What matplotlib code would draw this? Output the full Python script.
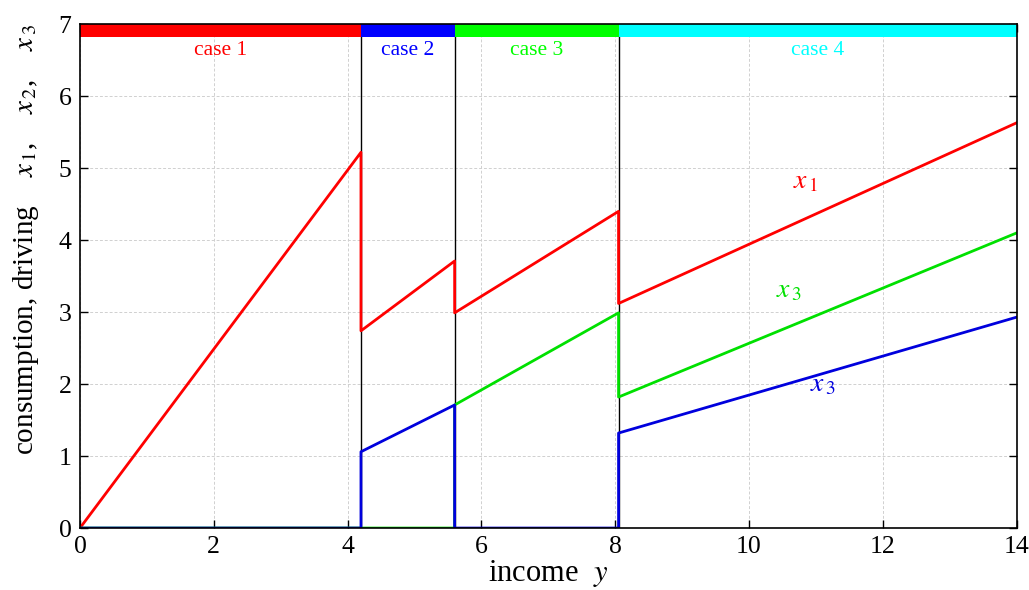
import numpy as np
import matplotlib.pyplot as plt

# income breakpoints between the cases
breaks = [0, 4.2, 5.6, 8.05, 14]
case_names = ['case 1', 'case 2', 'case 3', 'case 4']
case_colors = ['#ff0000', '#0000ff', '#00ff00', '#00ffff']

# piecewise linear paths (jumps at the breakpoints)
y = [0, 4.2, 4.2, 5.6, 5.6, 8.05, 8.05, 14]
x1 = [0, 5.22, 2.74, 3.71, 2.99, 4.40, 3.12, 5.63]
x2 = [0, 0, 1.06, 1.71, 0, 0, 1.32, 2.93]
x3 = [0, 0, 0, 0, 1.71, 2.99, 1.82, 4.10]

plt.rcParams['font.family'] = ['Liberation Serif', 'DejaVu Serif']
plt.rcParams['mathtext.fontset'] = 'stix'

fig = plt.figure(figsize=(10.29, 5.9), dpi=100)
ax = fig.add_axes([0.0777, 0.105, 0.9103, 0.854])

ax.grid(True, color='#d0d0d0', linestyle=(0, (3, 2)), linewidth=0.7)
ax.set_axisbelow(True)

for b in breaks[1:-1]:
    ax.axvline(b, color='black', linewidth=1.0, zorder=2)

ax.plot(y, x1, color='#ff0000', linewidth=2.0, zorder=3)
ax.plot(y, x3, color='#00e000', linewidth=2.0, zorder=3)
ax.plot(y, x2, color='#0000dd', linewidth=2.0, zorder=3)

top = 7.0
for i in range(4):
    a, b = breaks[i], breaks[i + 1]
    ax.fill_between([a, b], top - 0.18, top, color=case_colors[i], linewidth=0, zorder=4)
    ax.text((a + b) / 2, 6.64, case_names[i], color=case_colors[i], fontsize=15.5,
            ha='center', va='center', zorder=5)

ax.text(10.85, 4.72, r'$x_{\,1}$', color='#ff0000', fontsize=20, ha='center')
ax.text(10.6, 3.2, r'$x_{\,3}$', color='#00e000', fontsize=20, ha='center')
ax.text(11.1, 1.9, r'$x_{\,3}$', color='#0000dd', fontsize=20, ha='center')

ax.set_xlim(0, 14)
ax.set_ylim(0, 7)
ax.set_xticks(np.arange(0, 15, 2))
ax.set_yticks(np.arange(0, 8, 1))
ax.tick_params(direction='in', length=6, width=1, labelsize=18.5, top=True, right=True, pad=6)
for s in ax.spines.values():
    s.set_linewidth(1.2)
    s.set_zorder(6)

ax.set_xlabel(r'income  $y$', fontsize=22, labelpad=0)
ax.set_ylabel(r'consumption, driving    $x_{\,1}$,    $x_{\,2}$,    $x_{\,3}$', fontsize=21)
ax.yaxis.set_label_coords(-0.042, 0.573)

fig.savefig('out.png', dpi=100)
